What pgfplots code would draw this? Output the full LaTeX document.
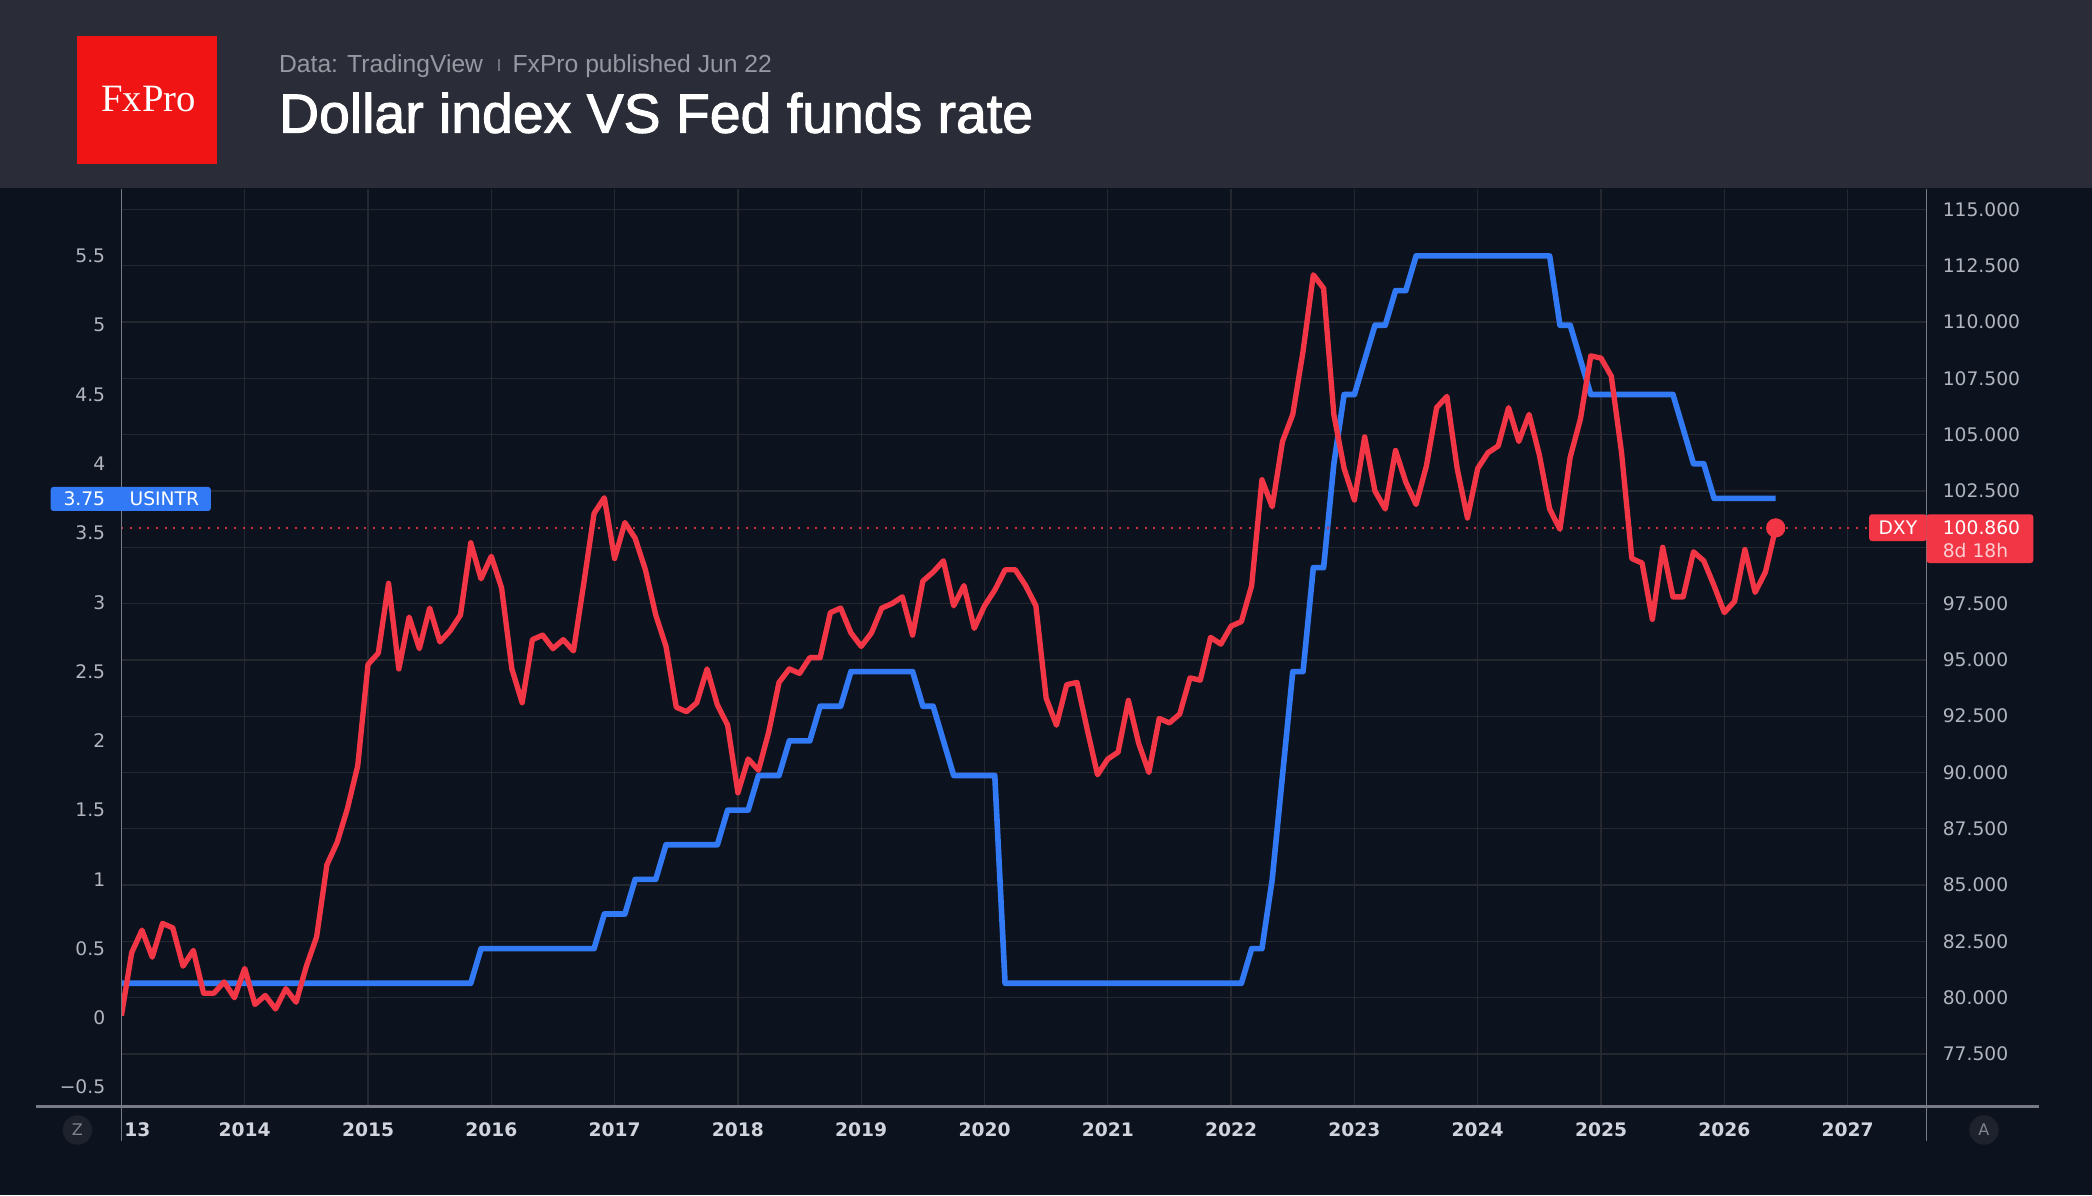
\documentclass[border=0pt]{standalone}
\usepackage{pgfplots}
\usepackage{pgfplotstable}
\pgfplotsset{compat=1.18}
\usepackage{fontspec}
\setmainfont{Liberation Sans}
\newfontfamily\titlefont[FakeBold=1.8]{Liberation Sans}
\newfontfamily\tickfont{DejaVu Sans}
\newfontfamily\logofont{Liberation Serif}
\definecolor{bgchart}{RGB}{13,19,30}
\definecolor{bghead}{RGB}{42,45,55}
\definecolor{gridc}{RGB}{37,40,47}
\definecolor{axisc}{RGB}{120,123,134}
\definecolor{tickc}{RGB}{178,181,190}
\definecolor{xtickc}{RGB}{209,212,220}
\definecolor{redl}{RGB}{242,54,69}
\definecolor{bluel}{RGB}{49,121,245}
\definecolor{logored}{RGB}{240,20,20}
\definecolor{subc}{RGB}{150,153,162}
\definecolor{sepc}{RGB}{110,113,122}
\definecolor{circc}{RGB}{30,34,45}

% DXY monthly closes, Jan 2013 .. Jun 2026
\pgfplotstableread{
v
79.2
82.0
83.0
81.8
83.3
83.1
81.4
82.1
80.2
80.2
80.7
80.0
81.3
79.7
80.1
79.5
80.4
79.8
81.4
82.7
85.9
86.9
88.4
90.3
94.8
95.3
98.4
94.6
96.9
95.5
97.3
95.8
96.3
97.0
100.2
98.6
99.6
98.2
94.6
93.1
95.9
96.1
95.5
95.9
95.4
98.4
101.5
102.2
99.5
101.1
100.4
99.0
97.0
95.6
92.9
92.7
93.1
94.6
93.0
92.1
89.1
90.6
90.1
91.8
94.0
94.6
94.4
95.1
95.1
97.1
97.3
96.2
95.6
96.2
97.3
97.5
97.8
96.1
98.5
98.9
99.4
97.4
98.3
96.4
97.4
98.1
99.0
99.0
98.3
97.4
93.3
92.1
93.9
94.0
91.9
89.9
90.6
90.9
93.2
91.3
90.0
92.4
92.2
92.6
94.2
94.1
96.0
95.7
96.5
96.7
98.3
103.0
101.8
104.7
105.9
108.7
112.1
111.5
105.9
103.5
102.1
104.9
102.5
101.7
104.3
102.9
101.9
103.6
106.2
106.7
103.5
101.3
103.5
104.2
104.5
106.2
104.7
105.9
104.1
101.7
100.8
104.0
105.7
108.5
108.4
107.6
104.2
99.5
99.3
96.8
100.0
97.8
97.8
99.8
99.4
98.3
97.1
97.6
99.9
98.0
98.9
100.86
}\dxy

\begin{document}
\begin{tikzpicture}[x=1pt,y=1pt]
\useasboundingbox (0,0) rectangle (1568,896);
\fill[bgchart] (0,0) rectangle (1568,896);

\pgfplotsset{base/.style={
  scale only axis, width=1353pt, height=687pt,
  at={(91pt,67pt)}, anchor=south west,
  xmin=2013, xmax=2027.64,
  major tick length=0pt,
  axis line style={draw=none},
  grid style={gridc, line width=1pt},
}}

% horizontal grid (DXY scale)
\begin{axis}[base, ymin=75.19, ymax=115.89,
  xtick=\empty,
  ytick={77.5,80,82.5,85,87.5,90,92.5,95,97.5,100,102.5,105,107.5,110,112.5,115},
  yticklabels={}, ymajorgrids]
\end{axis}

% Fed funds rate, left axis
\begin{axis}[base, ymin=-0.636, ymax=5.98,
  xtick={2014,2015,2016,2017,2018,2019,2020,2021,2022,2023,2024,2025,2026,2027},
  xticklabels={2014,2015,2016,2017,2018,2019,2020,2021,2022,2023,2024,2025,2026,2027},
  xmajorgrids,
  xticklabel style={font={\tickfont\bfseries\fontsize{14}{16}\selectfont}, text=xtickc, anchor=center, inner sep=0pt, yshift=-18pt},
  ytick={-0.5,0,0.5,1,1.5,2,2.5,3,3.5,4,4.5,5,5.5},
  yticklabels={−0.5,0,0.5,1,1.5,2,2.5,3,3.5,4,4.5,5,5.5},
  yticklabel style={font={\tickfont\fontsize{14}{16}\selectfont}, text=tickc, anchor=east, inner sep=0pt, xshift=-12pt}]
\addplot[bluel, line width=4.2pt, line join=round] coordinates {
(2013.0,0.25) (2015.8333,0.25) (2015.9167,0.5) (2016.8333,0.5) (2016.9167,0.75)
(2017.0833,0.75) (2017.1667,1.0) (2017.3333,1.0) (2017.4167,1.25) (2017.8333,1.25)
(2017.9167,1.5) (2018.0833,1.5) (2018.1667,1.75) (2018.3333,1.75) (2018.4167,2.0)
(2018.5833,2.0) (2018.6667,2.25) (2018.8333,2.25) (2018.9167,2.5) (2019.4167,2.5)
(2019.5,2.25) (2019.5833,2.25) (2019.6667,2.0) (2019.75,1.75) (2020.0833,1.75)
(2020.1667,0.25) (2022.0833,0.25) (2022.1667,0.5) (2022.25,0.5) (2022.3333,1.0)
(2022.4167,1.75) (2022.5,2.5) (2022.5833,2.5) (2022.6667,3.25) (2022.75,3.25)
(2022.8333,4.0) (2022.9167,4.5) (2023.0,4.5) (2023.0833,4.75) (2023.1667,5.0)
(2023.25,5.0) (2023.3333,5.25) (2023.4167,5.25) (2023.5,5.5) (2024.5833,5.5)
(2024.6667,5.0) (2024.75,5.0) (2024.8333,4.75) (2024.9167,4.5) (2025.5833,4.5)
(2025.6667,4.25) (2025.75,4.0) (2025.8333,4.0) (2025.9167,3.75) (2026.4167,3.75)
};
\end{axis}

% DXY, right axis (100.000 is hidden behind the last-value label)
\begin{axis}[base, ymin=75.19, ymax=115.89,
  xtick=\empty,
  yticklabel pos=right,
  ytick={77.5,80,82.5,85,87.5,90,92.5,95,97.5,102.5,105,107.5,110,112.5,115},
  yticklabels={77.500,80.000,82.500,85.000,87.500,90.000,92.500,95.000,97.500,102.500,105.000,107.500,110.000,112.500,115.000},
  yticklabel style={font={\tickfont\fontsize{14}{16}\selectfont}, text=tickc, anchor=west, inner sep=0pt, xshift=12pt}]
\addplot[redl!85!bgchart, line width=1.3pt, dash pattern=on 1.5pt off 5pt] coordinates {(2013,100.86) (2027.17,100.86)};
\addplot[redl, line width=4pt, line join=round] table[x expr={2013+\coordindex/12}, y=v] {\dxy};
\addplot[only marks, mark=*, mark size=7pt, redl] coordinates {(2026.4167,100.86)};
\end{axis}

% header
\fill[bghead] (0,755) rectangle (1568,896);
\fill[logored] (58,773) rectangle (163,869);
\node[white, inner sep=0pt, font={\logofont\fontsize{29}{29}\selectfont}] at (111.5,822) {FxPro};
\node[anchor=base west, inner sep=0pt, text=subc, font={\fontsize{18.5}{20}\selectfont}] at (209,841.5) {Data: TradingView};
\draw[sepc, line width=1pt] (374,843) -- (374,851.5);
\node[anchor=base west, inner sep=0pt, text=subc, font={\fontsize{18.5}{20}\selectfont}] at (384,841.5) {FxPro published Jun 22};
\node[anchor=base west, inner sep=0pt, text=white, font={\titlefont\fontsize{41.5}{44}\selectfont}] at (209,796.5) {Dollar index VS Fed funds rate};

% axis frame lines
\draw[axisc, line width=1.3pt] (91,41) -- (91,754);
\draw[axisc, line width=1.3pt] (1444,41) -- (1444,754);
\draw[axisc, line width=2pt] (27,66.5) -- (1528,66.5);

\node[anchor=west, inner sep=0pt, text=xtickc, font={\tickfont\bfseries\fontsize{14}{16}\selectfont}] at (93,49) {13};

% last value labels
\fill[bluel, rounded corners=2pt] (38,513) rectangle (158,531);
\node[anchor=east, inner sep=0pt, text=white, font={\tickfont\fontsize{14}{16}\selectfont}] at (79,522) {3.75};
\node[anchor=west, inner sep=0pt, text=white, font={\tickfont\fontsize{14}{16}\selectfont}] at (97,522) {USINTR};

\fill[redl, rounded corners=2pt] (1401,490.5) rectangle (1444,510.5);
\node[inner sep=0pt, text=white, font={\tickfont\fontsize{14}{16}\selectfont}] at (1422.5,500.5) {DXY};
\fill[redl, rounded corners=2pt] (1444,474) rectangle (1524,510.5);
\node[anchor=west, inner sep=0pt, text=white, font={\tickfont\fontsize{14}{16}\selectfont}] at (1456,500.5) {100.860};
\node[anchor=west, inner sep=0pt, text=white!75!redl, font={\tickfont\fontsize{14}{16}\selectfont}] at (1456,483.5) {8d 18h};

% scale buttons
\fill[circc] (58,49) circle (11);
\node[text=tickc!70!bgchart, font={\tickfont\fontsize{12}{14}\selectfont}] at (58,49) {Z};
\fill[circc] (1487,49) circle (11);
\node[text=tickc!70!bgchart, font={\tickfont\fontsize{12}{14}\selectfont}] at (1487,49) {A};
\end{tikzpicture}
\end{document}
